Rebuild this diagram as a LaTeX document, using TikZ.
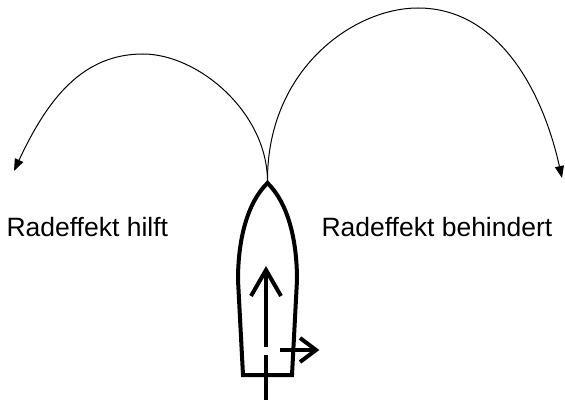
\documentclass[tikz,border=0pt]{standalone}
\usepackage{fontspec}
\setmainfont{Liberation Sans}
\usetikzlibrary{arrows.meta}
\begin{document}
\begin{tikzpicture}[x=1pt,y=-1pt,
  turnarc/.style={line width=1pt,-{Triangle[length=12pt,width=9pt]}},
  hull/.style={line width=4pt,line join=miter},
  thrust/.style={line width=4pt},
  label/.style={anchor=base west,inner sep=0pt,font=\fontsize{26.5}{31}\selectfont}]
\useasboundingbox (0,0) rectangle (565,401);

% named points
\coordinate (bow) at (267.5,181);
\coordinate (lefttop) at (143,54);
\coordinate (leftend) at (14,171);
\coordinate (righttop) at (418,8);
\coordinate (rightend) at (562,178);

% turning arcs from the bow
\draw[turnarc] (bow) .. controls (267,112) and (198,54) .. (lefttop)
  .. controls (83,54) and (48,98) .. (leftend);
\draw[turnarc] (bow) .. controls (267,70) and (353,8) .. (righttop)
  .. controls (498,8) and (542.5,90) .. (rightend);

% hull
\draw[hull] (267.5,183) .. controls (247,203) and (238,240) .. (238,280)
  -- (243,375) -- (292,375) -- (297,280)
  .. controls (297,240) and (288,203) .. cycle;

% forward thrust arrow (shaft with gap)
\coordinate (fwdtip) at (266,270);
\coordinate (fwdend) at (266,347);
\coordinate (sternin) at (266,355);
\coordinate (sternout) at (266,400);
\draw[thrust] (fwdtip) -- (fwdend);
\draw[thrust] (sternin) -- (sternout);
\draw[thrust,line join=miter] (251,296) -- (fwdtip) -- (281,296);

% sideways arrow (paddle wheel effect)
\coordinate (sidefrom) at (280,350);
\coordinate (sidetip) at (316,350);
\draw[thrust] (sidefrom) -- (sidetip);
\draw[thrust,line join=miter] (300,338) -- (sidetip) -- (300,362);

% labels
\node[label] (hilft) at (6.3,236.5) {Radeffekt hilft};
\node[label] (behindert) at (321.3,236.5) {Radeffekt behindert};
\end{tikzpicture}
\end{document}
